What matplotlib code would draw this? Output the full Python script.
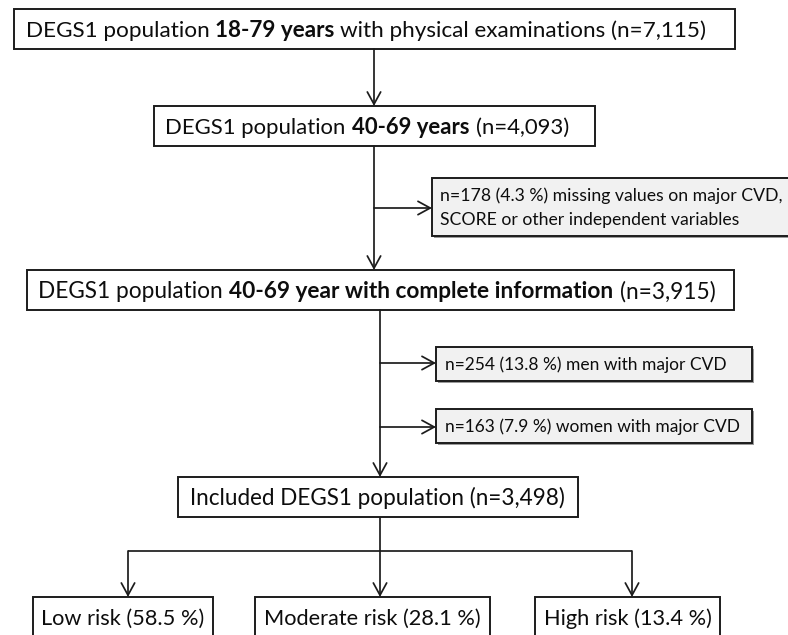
import matplotlib
matplotlib.use("Agg")
import matplotlib.pyplot as plt
from matplotlib.patches import Rectangle

FONT = ["Lato", "DejaVu Sans"]
INK = "#1c1c1c"

# ---------------- data (texts of the flowchart) ----------------
main_box_1 = [("DEGS1 population", False), ("18-79 years", True),
              ("with physical examinations (n=7,115)", False)]
main_box_2 = [("DEGS1 population", False), ("40-69 years", True), ("(n=4,093)", False)]
main_box_3 = [("DEGS1 population", False), ("40-69 year with complete information", True),
              ("(n=3,915)", False)]
main_box_4 = [("Included DEGS1 population (n=3,498)", False)]
excl_missing = ["n=178 (4.3 %) missing values on major CVD,",
                "SCORE or other independent variables"]
excl_men = "n=254 (13.8 %) men with major CVD"
excl_women = "n=163 (7.9 %) women with major CVD"
risk_groups = ["Low risk", "Moderate risk", "High risk"]
risk_pct = [58.5, 28.1, 13.4]

# ---------------- figure in pixel coordinates ----------------
fig = plt.figure(figsize=(7.88, 6.35), dpi=100)
ax = fig.add_axes([0, 0, 1, 1])
ax.set_xlim(0, 788)
ax.set_ylim(635, 0)
ax.axis("off")
renderer = fig.canvas.get_renderer()
CAP = 0.7165  # Lato cap height / em


def measure(s, size, bold=False):
    t = ax.text(0, 0, s, fontsize=size, fontweight="bold" if bold else "normal",
                family=FONT)
    w = t.get_window_extent(renderer).width
    t.remove()
    return w


def fit_size(segs, width, base=10.0):
    sp = measure("x x", base) - measure("xx", base)
    total = sum(measure(s, base, b) for s, b in segs) + sp * (len(segs) - 1)
    return base * width / total


def rich(segs, left, cy, size):
    base = 10.0
    sp = (measure("x x", base) - measure("xx", base)) * size / base
    x = left
    baseline = cy + 0.5 * CAP * size * 100 / 72
    for s, b in segs:
        ax.text(x, baseline, s, fontsize=size, fontweight="bold" if b else "normal",
                family=FONT, va="baseline", ha="left", color="#0d0d0d")
        x += measure(s, base, b) * size / base + sp


def box(x0, y0, x1, y1, fill="white", shadow=False):
    if shadow:
        ax.add_patch(Rectangle((x0 + 2, y0 + 2), x1 - x0, y1 - y0, facecolor="#9a9a9a",
                               edgecolor="none", zorder=1))
    ax.add_patch(Rectangle((x0, y0), x1 - x0, y1 - y0, facecolor=fill, edgecolor=INK,
                           linewidth=1.4, zorder=2))


def line(xs, ys):
    ax.plot(xs, ys, color=INK, lw=1.25, solid_capstyle="butt", zorder=3)


def arrow(x0, y0, x1, y1):
    ax.annotate("", xy=(x1, y1), xytext=(x0, y0),
                arrowprops=dict(arrowstyle="->,head_length=0.55,head_width=0.3",
                                color=INK, lw=1.25, shrinkA=0, shrinkB=0,
                                mutation_scale=16), zorder=3)


# main boxes
box(14, 9, 735, 49)
rich(main_box_1, 26, 29, fit_size(main_box_1, 706 - 26))

box(154, 106, 595, 146)
rich(main_box_2, 165, 126, fit_size(main_box_2, 569 - 165))

box(27, 270, 734, 310)
rich(main_box_3, 38, 290, fit_size(main_box_3, 716 - 38))

box(178, 477, 578, 517)
rich(main_box_4, 190, 497, fit_size(main_box_4, 565 - 190))

# exclusion boxes
gray = "#f1f1f1"
box(432, 178, 800, 236, fill=gray, shadow=True)
s1 = fit_size([(excl_missing[0], False)], 780 - 440)
rich([(excl_missing[0], False)], 440, 195, s1)
rich([(excl_missing[1], False)], 440, 219, s1)

box(436, 347, 752, 381, fill=gray, shadow=True)
s2 = fit_size([(excl_men, False)], 726 - 445)
rich([(excl_men, False)], 445, 364, s2)
box(436, 409, 752, 443, fill=gray, shadow=True)
rich([(excl_women, False)], 445, 426, s2)

# risk boxes
risk_boxes = [(33, 213), (255, 490), (535, 720)]
risk_labels = [f"{g} ({p} %)" for g, p in zip(risk_groups, risk_pct)]
s3 = fit_size([(risk_labels[0], False)], 207 - 44)
for (x0, x1), lab in zip(risk_boxes, risk_labels):
    box(x0, 597, x1, 660)
    w = measure(lab, s3)
    rich([(lab, False)], (x0 + x1) / 2 - w / 2, 617, s3)

# connectors
arrow(374, 49, 374, 106)
arrow(374, 146, 374, 270)
arrow(374, 208, 432, 208)
arrow(380, 310, 380, 477)
arrow(380, 363, 436, 363)
arrow(380, 427, 436, 427)
line([380, 380], [517, 551])
line([128, 632], [551, 551])
for (x0, x1), xa in zip(risk_boxes, [128, 380, 632]):
    arrow(xa, 551, xa, 597)

fig.savefig("out.png", dpi=100, facecolor="white")
